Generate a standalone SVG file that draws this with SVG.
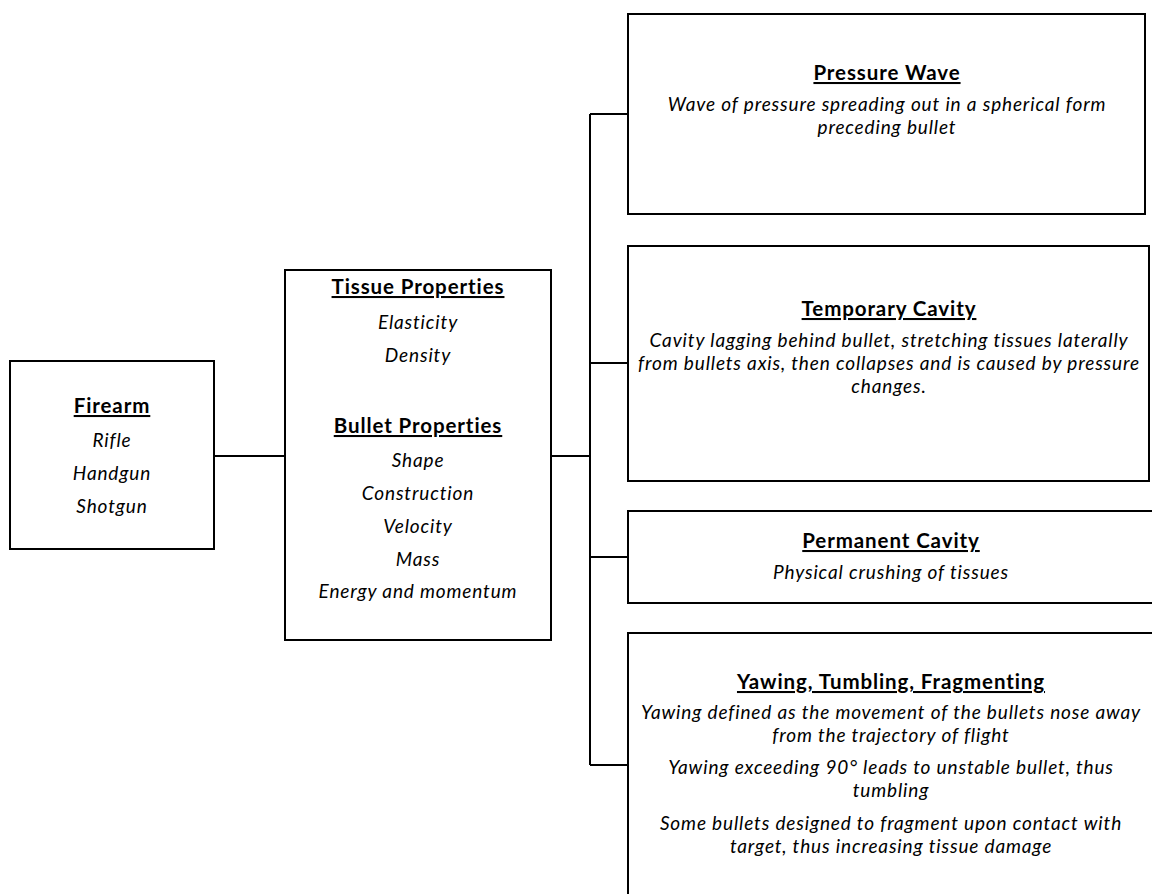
<svg xmlns="http://www.w3.org/2000/svg" width="1152" height="894" viewBox="0 0 1152 894">
<style>
.box{fill:#fff;stroke:#000;stroke-width:2}
.c{fill:none;stroke:#000;stroke-width:2}
text{font-family:Lato,"Liberation Sans",sans-serif;fill:#000;text-anchor:middle;font-variant-ligatures:none}
.h{font-weight:bold;font-size:20.5px;letter-spacing:0.9px;text-decoration:underline}
.i{font-style:italic;font-size:19px;letter-spacing:0.85px}
</style>
<rect width="1152" height="894" fill="#fff"/>
<g id="connectors">
<path class="c" d="M214 456H285M551 456H590M590 114V765M590 114H628M590 363H628M590 557H628M590 765H628"/>
</g>
<g id="firearm">
<rect class="box" x="10" y="361" width="204" height="188"/>
<text class="h" x="112" y="413">Firearm</text>
<text class="i" x="112" y="447">Rifle</text>
<text class="i" x="112" y="480">Handgun</text>
<text class="i" x="112" y="513">Shotgun</text>
</g>
<g id="properties">
<rect class="box" x="285" y="270" width="266" height="370"/>
<text class="h" x="418" y="294">Tissue Properties</text>
<text class="i" x="418" y="329">Elasticity</text>
<text class="i" x="418" y="362">Density</text>
<text class="h" x="418" y="433">Bullet Properties</text>
<text class="i" x="418" y="467">Shape</text>
<text class="i" x="418" y="500">Construction</text>
<text class="i" x="418" y="533">Velocity</text>
<text class="i" x="418" y="566">Mass</text>
<text class="i" x="418" y="598">Energy and momentum</text>
</g>
<g id="pressure-wave">
<rect class="box" x="628" y="14" width="517" height="200"/>
<text class="h" x="887" y="80">Pressure Wave</text>
<text class="i" x="887" y="111">Wave of pressure spreading out in a spherical form</text>
<text class="i" x="887" y="134">preceding bullet</text>
</g>
<g id="temporary-cavity">
<rect class="box" x="628" y="246" width="521" height="235"/>
<text class="h" x="889" y="316">Temporary Cavity</text>
<text class="i" x="889" y="347">Cavity lagging behind bullet, stretching tissues laterally</text>
<text class="i" x="889" y="370">from bullets axis, then collapses and is caused by pressure</text>
<text class="i" x="889" y="393">changes.</text>
</g>
<g id="permanent-cavity">
<rect class="box" x="628" y="511" width="540" height="92"/>
<text class="h" x="891" y="548">Permanent Cavity</text>
<text class="i" x="891" y="579">Physical crushing of tissues</text>
</g>
<g id="yawing">
<rect class="box" x="628" y="633" width="540" height="300"/>
<text class="h" x="891" y="689">Yawing, Tumbling, Fragmenting</text>
<text class="i" x="891" y="719">Yawing defined as the movement of the bullets nose away</text>
<text class="i" x="891" y="742">from the trajectory of flight</text>
<text class="i" x="891" y="774">Yawing exceeding 90° leads to unstable bullet, thus</text>
<text class="i" x="891" y="797">tumbling</text>
<text class="i" x="891" y="830">Some bullets designed to fragment upon contact with</text>
<text class="i" x="891" y="853">target, thus increasing tissue damage</text>
</g>
</svg>
